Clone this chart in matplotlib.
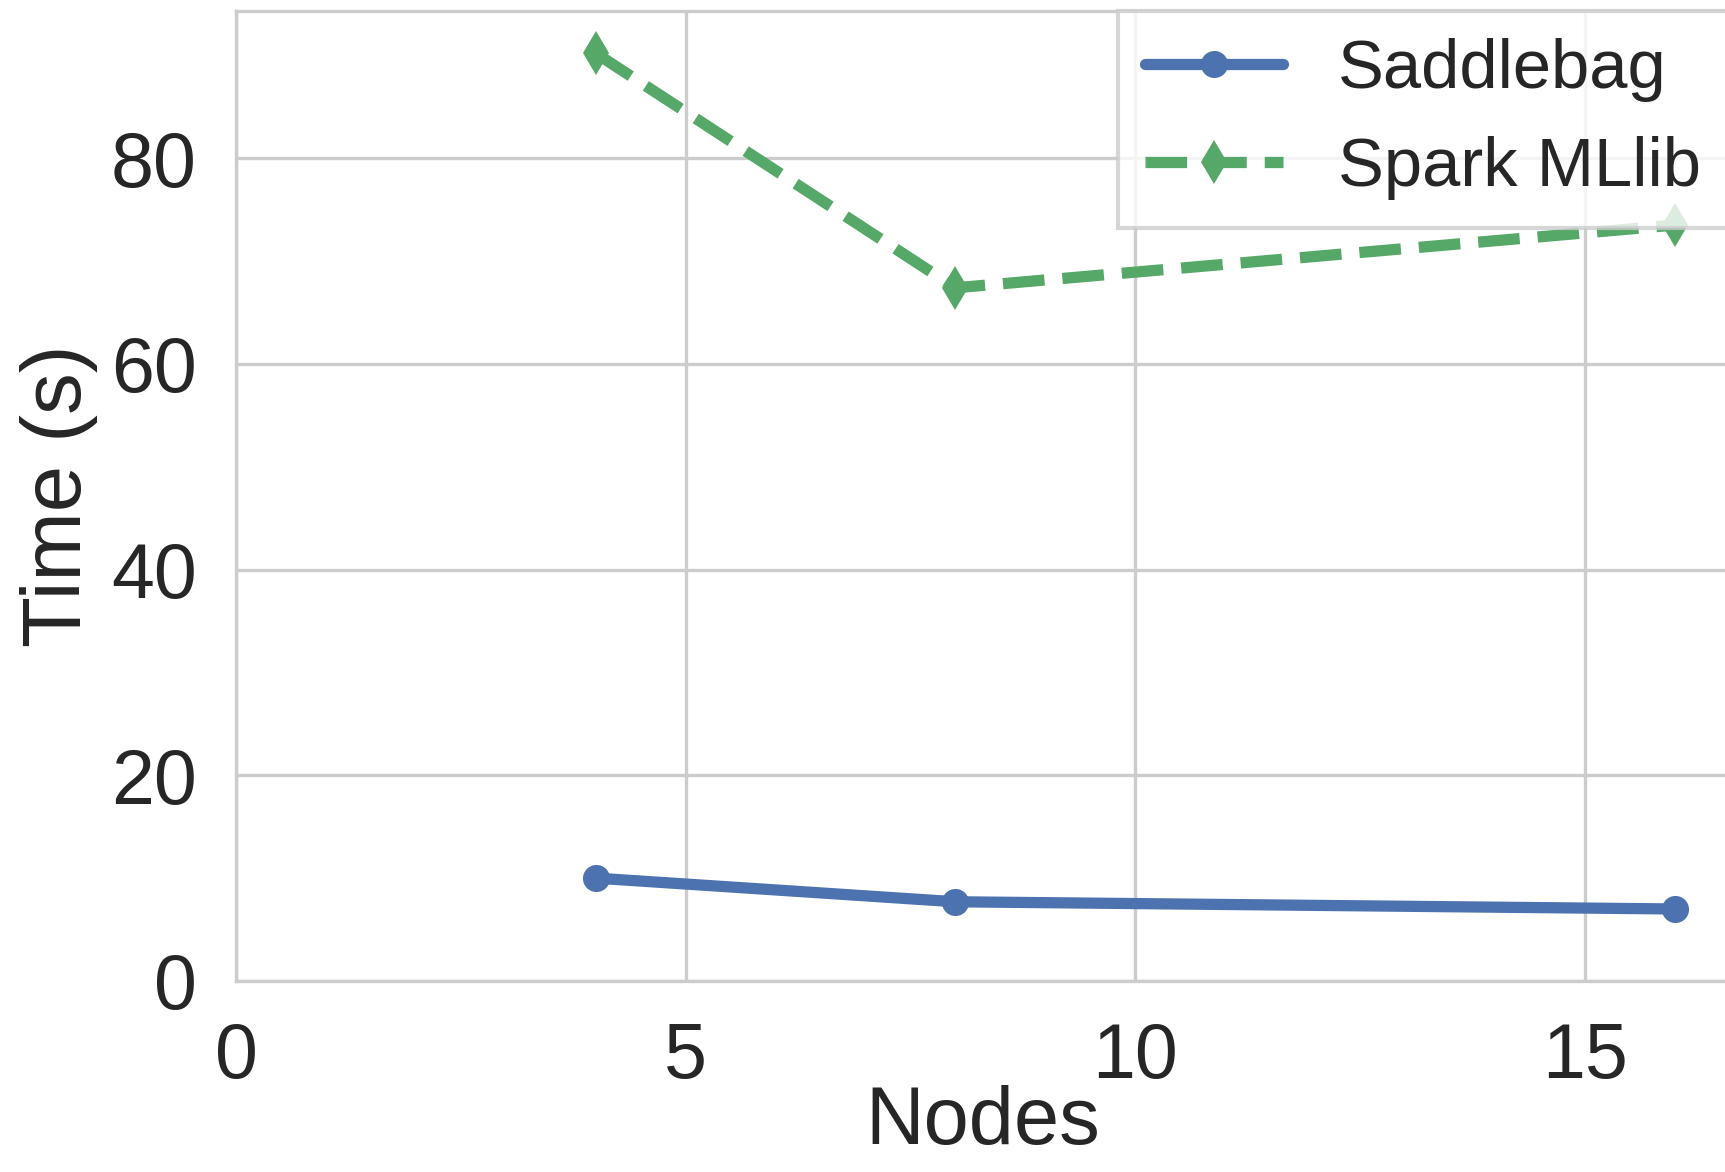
import matplotlib
matplotlib.use("Agg")
import matplotlib.pyplot as plt
import seaborn as sns

nodes = [4, 8, 16]
saddlebag = [10.0, 7.7, 7.0]
spark = [90.2, 67.4, 73.5]
xticks = [0, 5, 10, 15]

sns.set_style("whitegrid")
plt.rcParams["font.family"] = ["Liberation Sans", "DejaVu Sans"]

fig = plt.figure(figsize=(5.75, 1172 / 300), dpi=300)
ax = fig.add_axes([0.137, 0.163, 0.865, 0.828])

ax.plot(nodes, saddlebag, "-o", color="#4C72B0", lw=2.7, ms=6.5,
        mew=0, label="Saddlebag")
ax.plot(nodes, spark, "--d", color="#55A868", lw=2.7, ms=7.5,
        mew=0, label="Spark MLlib")

ax.set_xlim(left=0)
ax.set_ylim(bottom=0)
ax.set_xticks(xticks)
ax.set_xlabel("Nodes", fontsize=19.5, labelpad=-2)
ax.set_ylabel("Time (s)", fontsize=20, labelpad=3)
ax.tick_params(labelsize=18.5, pad=6)
ax.legend(loc="upper right", fontsize=16.5, borderaxespad=0.0, fancybox=False)

fig.savefig("out.png", dpi=300)
